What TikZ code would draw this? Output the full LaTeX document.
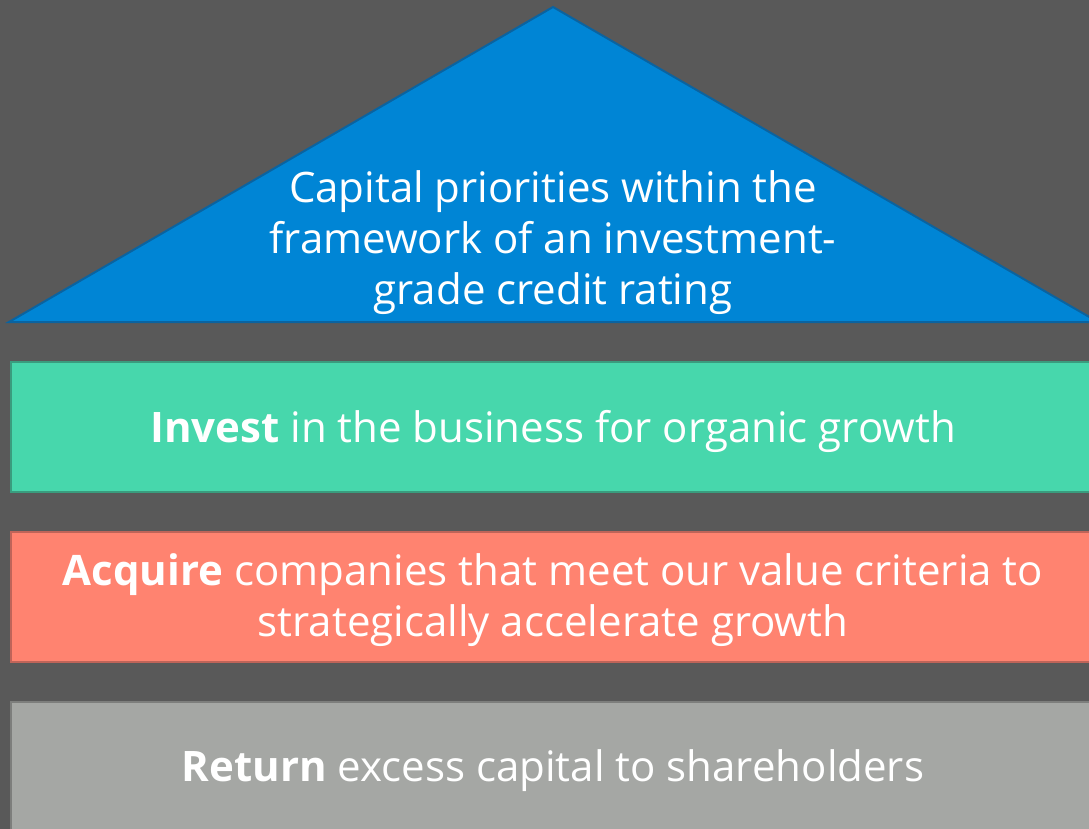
\documentclass[tikz,border=0pt]{standalone}
\usepackage{fontspec}
\setmainfont{Open Sans}
\definecolor{bg}{HTML}{595959}
\definecolor{blu}{HTML}{0085D5}
\definecolor{bluD}{HTML}{0A63A0}
\definecolor{grn}{HTML}{47D7AC}
\definecolor{grnD}{HTML}{3A9C7E}
\definecolor{sal}{HTML}{FF8370}
\definecolor{salD}{HTML}{BF6459}
\definecolor{gry}{HTML}{A5A7A4}
\definecolor{gryD}{HTML}{7D7E7C}
\tikzset{
  band/.style={line width=2pt},
  txt/.style={text=white, font=\fontsize{42}{51}\selectfont, align=center, inner sep=0pt},
}
\begin{document}
\begin{tikzpicture}[x=1pt,y=-1pt]
\useasboundingbox (0,0) rectangle (1089,829);
\fill[bg] (0,0) rectangle (1089,829);
\begin{scope}
\clip (0,0) rectangle (1089,829);
\draw[band, fill=blu, draw=bluD, line join=miter] (553,7) -- (1098,322) -- (9,322) -- cycle;
\draw[band, fill=grn, draw=grnD] (11,362) rectangle (1100,492);
\draw[band, fill=sal, draw=salD] (11,532) rectangle (1100,662);
\draw[band, fill=gry, draw=gryD] (11,702) rectangle (1100,840);
\end{scope}
\node[txt] (apex) at (553,243) {Capital priorities within the\\framework of an investment-\\grade credit rating};
\node[txt] (invest) at (553,431) {\textbf{Invest} in the business for organic growth};
\node[txt] (acquire) at (553,600) {\textbf{Acquire} companies that meet our value criteria to\\strategically accelerate growth};
\node[txt] (return) at (553,771) {\textbf{Return} excess capital to shareholders};
\end{tikzpicture}
\end{document}
